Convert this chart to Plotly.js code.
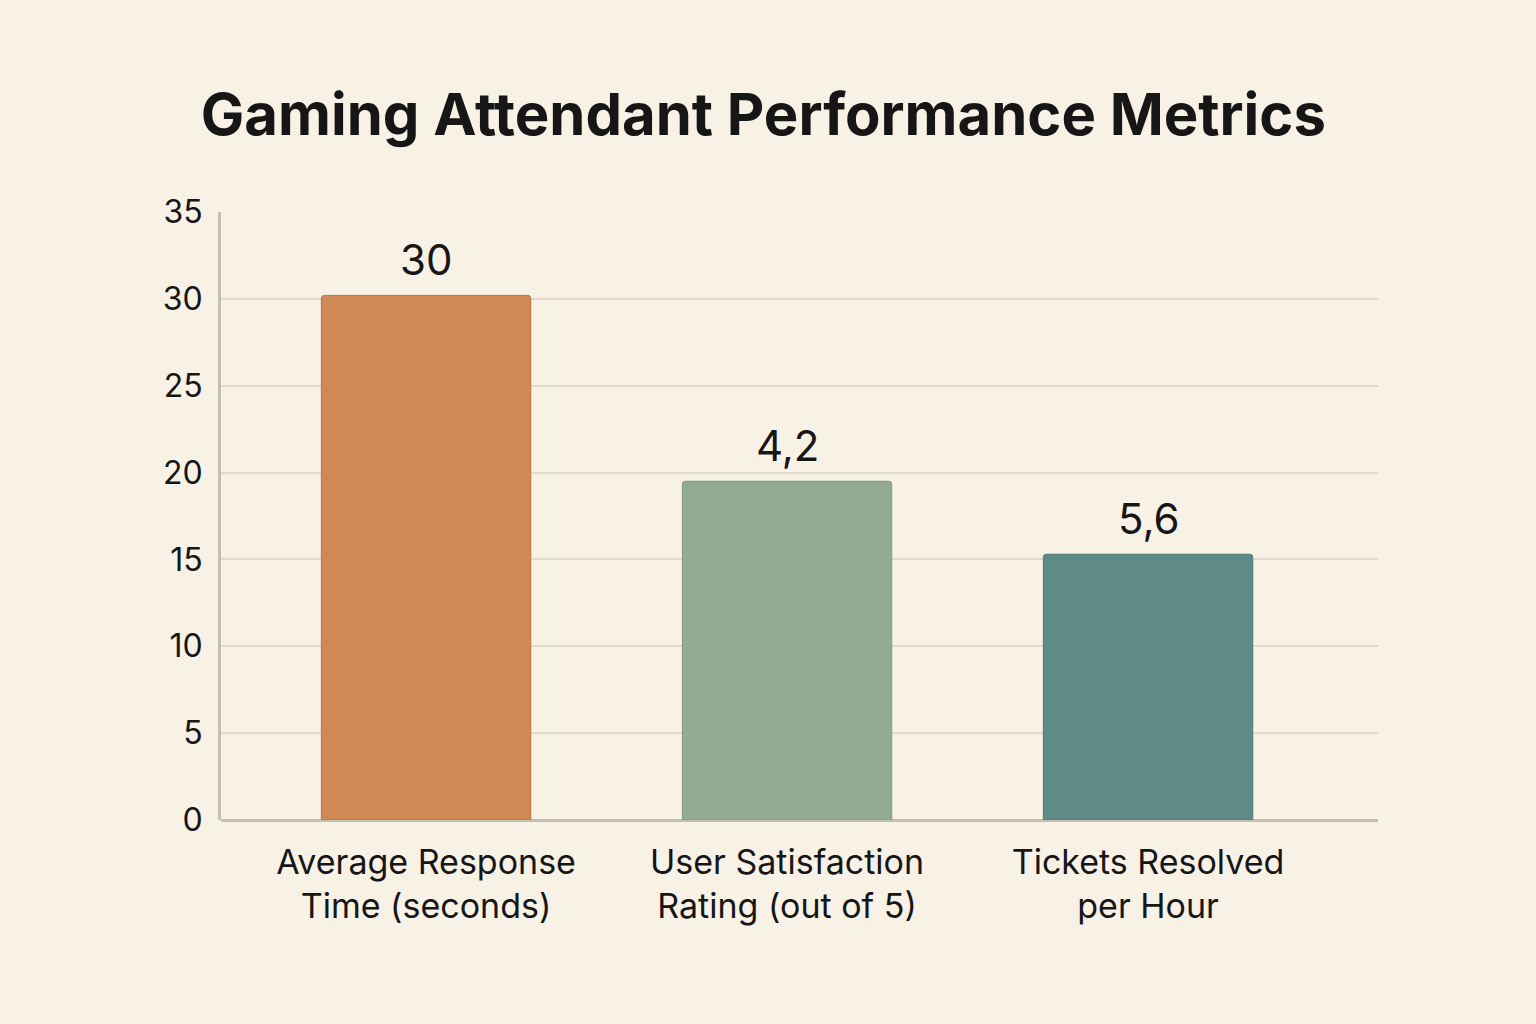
<!DOCTYPE html>
<html>
<head>
<meta charset="utf-8">
<script src="https://cdn.plot.ly/plotly-3.0.1.min.js"></script>
<style>
  html, body { margin: 0; padding: 0; background: #f8f1e6; }
  #chart { width: 1536px; height: 1024px; }
</style>
</head>
<body>
<div id="chart"></div>
<script>
// categories and values as drawn in the picture
var categories = ["Average Response<br>Time (seconds)", "User Satisfaction<br>Rating (out of 5)", "Tickets Resolved<br>per Hour"];
var barHeights = [30.2, 19.5, 15.3];
var valueLabels = ["30", "4,2", "5,6"];
var barColors = ["#d08955", "#93ab92", "#5f8b87"];
var lineColors = ["#b9723f", "#7f9a7f", "#4f7874"];

var trace = {
    type: 'bar',
    x: categories,
    y: barHeights,
    width: 0.58,
    marker: {
        color: barColors,
        line: {color: lineColors, width: 1}
    },
    hoverinfo: 'skip'
};

// value labels above each bar
var annotations = categories.map(function(c, i) {
    return {
        x: c, y: barHeights[i],
        text: valueLabels[i],
        showarrow: false,
        yanchor: 'bottom',
        yshift: 8,
        font: {family: 'Inter, sans-serif', size: 42, color: '#161616'}
    };
});

var layout = {
    width: 1536, height: 1024,
    paper_bgcolor: '#f8f1e6',
    plot_bgcolor: '#f8f1e6',
    margin: {l: 221, r: 158, t: 212, b: 204},
    showlegend: false,
    barcornerradius: 3,
    title: {
        text: '<b>Gaming Attendant Performance Metrics</b>',
        x: 0.497, xanchor: 'center',
        y: 0.888, yanchor: 'middle',
        font: {family: 'Inter, sans-serif', size: 58, color: '#161616'}
    },
    xaxis: {
        type: 'category',
        range: [-0.568, 2.637],
        showgrid: false,
        showline: false,
        zeroline: false,
        ticks: '',
        tickfont: {family: 'Inter, sans-serif', size: 34, color: '#161616'},
        ticklabelstandoff: 19
    },
    yaxis: {
        range: [0, 35],
        dtick: 5,
        showgrid: true,
        gridcolor: '#e0d9cc',
        gridwidth: 2,
        showline: true,
        linecolor: '#c4bfb3',
        linewidth: 3,
        zeroline: true,
        zerolinecolor: '#c4bfb3',
        zerolinewidth: 3,
        ticks: '',
        tickfont: {family: 'Inter, sans-serif', size: 32, color: '#161616'},
        ticklabelstandoff: 9
    },
    annotations: annotations
};

Plotly.newPlot('chart', [trace], layout, {displayModeBar: false, staticPlot: true});
</script>
</body>
</html>
